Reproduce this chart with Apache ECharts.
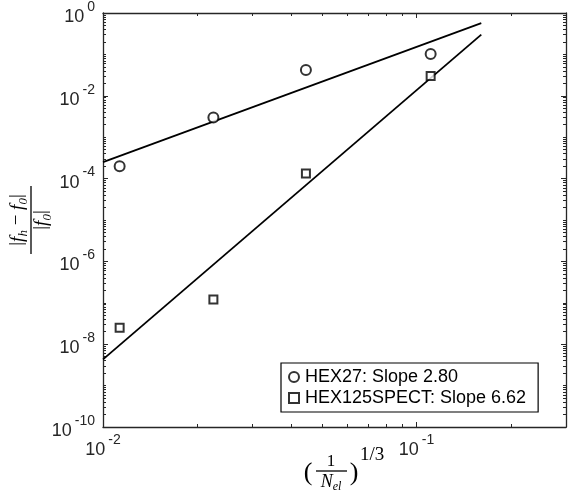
<!DOCTYPE html>
<html lang="en">
  <head>
    <meta charset="UTF-8" />
    <title>Convergence</title>
    <script src="https://cdn.jsdelivr.net/npm/echarts@6/dist/echarts.min.js"></script>
    <style>
      html, body { margin: 0; padding: 0; background: #fff; }
      #main { width: 568px; height: 495px; }
    </style>
  </head>
  <body>
    <div id="main"></div>
    <script>
      // data
      var elSize = [0.0113, 0.0225, 0.0444, 0.111];
      var hex27Err = [2.0e-4, 3.0e-3, 4.2e-2, 0.102];
      var hex125Err = [2.5e-8, 1.2e-7, 1.33e-4, 3.0e-2];
      // fit lines (end points)
      var fitX = [0.01, 0.161];
      var hex27Fit = [2.5e-4, 0.57];
      var hex125Fit = [4.3e-9, 0.3];

      // ticks
      var xMajor = [0.01, 0.1];
      var xMinor = [0.02, 0.03, 0.04, 0.05, 0.06, 0.07, 0.08, 0.09, 0.2, 0.3];
      var yMajor = [1e-10, 1e-8, 1e-6, 1e-4, 1e-2, 1];
      var yMinor = [];
      for (var k = -10; k < 0; k++) {
        for (var m = 1; m < 10; m++) {
          if (m === 1 && k % 2 === 0) continue;
          yMinor.push(parseFloat((m * Math.pow(10, k)).toPrecision(3)));
        }
      }

      var names = ["HEX27: Slope 2.80", "HEX125SPECT: Slope 6.62"];

      function pairs(xs, ys) {
        return xs.map(function (x, i) { return [x, ys[i]]; });
      }

      var axisColor = "#262626";
      var labelRich = {
        b: { fontSize: 18, fontFamily: "Liberation Sans", color: axisColor, lineHeight: 26, verticalAlign: "bottom" },
        s: { fontSize: 14, fontFamily: "Liberation Sans", color: axisColor, lineHeight: 14, padding: [0, 0, 0, 3], verticalAlign: "top" }
      };
      function powLabel(v) {
        var e = Math.round(Math.log10(v));
        return "{b|10}{s|" + e + "}";
      }

      function makeAxis(dim, pos, major, ticks, len, showLine, showLabel) {
        return {
          type: "log",
          position: pos,
          min: dim === "x" ? 0.01 : 1e-10,
          max: dim === "x" ? 0.3 : 1,
          axisLine: { show: showLine, lineStyle: { color: axisColor, width: 1.3 } },
          axisTick: { show: true, inside: true, length: len, customValues: ticks, lineStyle: { color: axisColor, width: 1 } },
          axisLabel: { show: showLabel, customValues: major, formatter: powLabel, rich: labelRich, margin: dim === "x" ? 6 : 8 },
          splitLine: { show: false },
          minorTick: { show: false }
        };
      }

      // serif math text pieces
      function mathRich(size, subSize, lh) {
        return {
          v: { fontSize: size, fontFamily: "Liberation Serif", color: "#000", lineHeight: lh, verticalAlign: "top" },
          f: { fontSize: size, fontFamily: "Liberation Serif", fontStyle: "italic", color: "#000", lineHeight: lh, verticalAlign: "top" },
          sub: { fontSize: subSize, fontFamily: "Liberation Serif", fontStyle: "italic", color: "#000", lineHeight: subSize, verticalAlign: "bottom" }
        };
      }

      var myChart = echarts.init(document.getElementById("main"));
      var option = {
        animation: false,
        backgroundColor: "#fff",
        grid: { left: 103, right: 2, top: 11, bottom: 68 },
        xAxis: [
          makeAxis("x", "bottom", xMajor, xMajor, 5, true, true),
          makeAxis("x", "bottom", xMajor, xMinor, 3, false, false),
          makeAxis("x", "top", xMajor, xMajor, 5, true, false),
          makeAxis("x", "top", xMajor, xMinor, 3, false, false)
        ],
        yAxis: [
          makeAxis("y", "left", yMajor, yMajor, 5, true, true),
          makeAxis("y", "left", yMajor, yMinor, 3, false, false),
          makeAxis("y", "right", yMajor, yMajor, 5, true, false),
          makeAxis("y", "right", yMajor, yMinor, 3, false, false)
        ],
        legend: {
          data: names,
          orient: "vertical",
          left: 281,
          top: 363,
          padding: [5, 12, 5, 7],
          itemGap: 3,
          itemWidth: 10,
          itemHeight: 10,
          borderColor: "#000",
          borderWidth: 1.2,
          backgroundColor: "#fff",
          textStyle: { fontSize: 18, fontFamily: "Liberation Sans", color: "#000", padding: [0, 0, 0, 1] }
        },
        series: [
          {
            type: "line",
            data: pairs(fitX, hex27Fit),
            symbol: "none",
            lineStyle: { color: "#000", width: 1.8 },
            z: 2
          },
          {
            type: "line",
            data: pairs(fitX, hex125Fit),
            symbol: "none",
            lineStyle: { color: "#000", width: 1.8 },
            z: 2
          },
          {
            name: names[0],
            type: "scatter",
            data: pairs(elSize, hex27Err),
            symbol: "emptyCircle",
            symbolSize: 10,
            itemStyle: { color: "#000", borderColor: "#000", borderWidth: 1.5 },
            z: 3
          },
          {
            name: names[1],
            type: "scatter",
            data: pairs(elSize, hex125Err),
            symbol: "emptyRect",
            symbolSize: 8,
            itemStyle: { color: "#000", borderColor: "#000", borderWidth: 1.5 },
            z: 3
          }
        ],
        graphic: [
          // y axis name: |f_h - f_0| / |f_0|
          {
            type: "group",
            x: 31,
            y: 220,
            rotation: Math.PI / 2,
            children: [
              { type: "line", shape: { x1: -34, y1: 0, x2: 34, y2: 0 }, style: { stroke: "#000", lineWidth: 1.3 } },
              {
                type: "text",
                style: {
                  text: "{v||}{f|f}{sub|h}{v| − }{f|f}{sub|0}{v||}",
                  x: 0, y: -1, align: "center", verticalAlign: "bottom", textAlign: "center", textVerticalAlign: "bottom",
                  rich: mathRich(19, 13, 22)
                }
              },
              {
                type: "text",
                style: {
                  text: "{v||}{f|f}{sub|0}{v||}",
                  x: 0, y: 1, align: "center", verticalAlign: "top", textAlign: "center", textVerticalAlign: "top",
                  rich: mathRich(19, 13, 22)
                }
              }
            ]
          },
          // x axis name: (1/N_el)^(1/3)
          { type: "text", style: { text: "(", x: 308, y: 473, font: "26px Liberation Serif", fill: "#000", align: "center", verticalAlign: "middle", textAlign: "center", textVerticalAlign: "middle" } },
          { type: "text", style: { text: "1", x: 331, y: 470, font: "17px Liberation Serif", fill: "#000", align: "center", verticalAlign: "bottom", textAlign: "center", textVerticalAlign: "bottom" } },
          { type: "line", shape: { x1: 316, y1: 471, x2: 347, y2: 471 }, style: { stroke: "#000", lineWidth: 1.3 } },
          {
            type: "text",
            style: {
              text: "{f|N}{sub|el}",
              x: 331, y: 473, align: "center", verticalAlign: "top", textAlign: "center", textVerticalAlign: "top",
              rich: mathRich(18, 12, 20)
            }
          },
          { type: "text", style: { text: ")", x: 354, y: 473, font: "26px Liberation Serif", fill: "#000", align: "center", verticalAlign: "middle", textAlign: "center", textVerticalAlign: "middle" } },
          { type: "text", style: { text: "1/3", x: 360, y: 455, font: "19px Liberation Serif", fill: "#000", align: "left", verticalAlign: "middle", textAlign: "left", textVerticalAlign: "middle" } }
        ]
      };
      myChart.setOption(option);
    </script>
  </body>
</html>
